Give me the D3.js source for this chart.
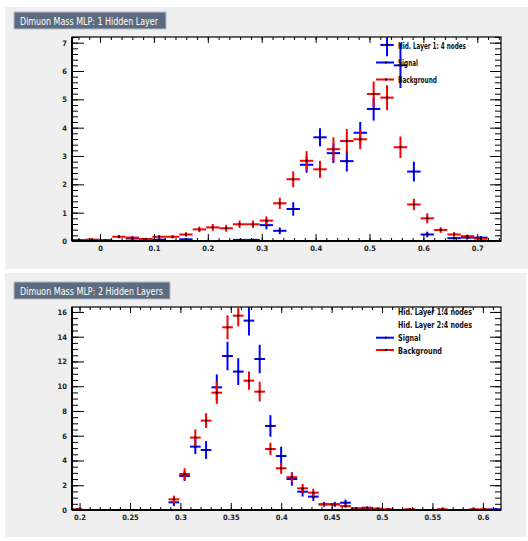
<!DOCTYPE html>
<html>
<head>
<meta charset="utf-8">
<script src="https://cdn.jsdelivr.net/npm/d3@7"></script>
<style>
  html, body { margin: 0; padding: 0; background: #ffffff; }
  svg { display: block; }
  .tick text { font-family: "Liberation Sans Narrow", "DejaVu Sans Condensed", sans-serif; font-size: 7.5px; font-weight: bold; fill: #222; }
</style>
</head>
<body>
<svg id="chart" width="528" height="541"></svg>
<script>
// ---- Panel 1: MLP with one hidden layer (32 bins) ----
const mlp1Range = [-0.052, 0.744];
const mlp1YMax = 7.2;
const mlp1XTicks = [0, 0.1, 0.2, 0.3, 0.4, 0.5, 0.6, 0.7];
const mlp1YTicks = [0, 1, 2, 3, 4, 5, 6, 7];
const mlp1Signal = [0.03, 0.02, 0.03, 0, 0.09, 0.05, 0.05, 0, 0.06, 0, 0, 0, 0.04, 0.04, 0.56, 0.36,
                    1.13, 2.69, 3.66, 3.10, 2.82, 3.82, 4.66, 6.92, 6.20, 2.45, 0.23, 0, 0.10, 0.12, 0.12, 0];
const mlp1SignalErr = [0.03, 0.02, 0.03, 0, 0.05, 0.04, 0.04, 0, 0.04, 0, 0, 0, 0.03, 0.03, 0.15, 0.12,
                       0.24, 0.28, 0.32, 0.35, 0.37, 0.38, 0.41, 0.40, 0.80, 0.35, 0.10, 0, 0.04, 0.05, 0.05, 0];
const mlp1Background = [0.02, 0.05, 0.02, 0.15, 0.12, 0.07, 0.15, 0.15, 0.23, 0.41, 0.48, 0.45, 0.59, 0.59, 0.72, 1.33,
                        2.18, 2.83, 2.53, 3.24, 3.53, 3.59, 5.19, 5.06, 3.31, 1.29, 0.80, 0.39, 0.23, 0.17, 0.08, 0];
const mlp1BackgroundErr = [0.02, 0.04, 0.02, 0.06, 0.05, 0.04, 0.06, 0.06, 0.08, 0.10, 0.12, 0.12, 0.13, 0.13, 0.15, 0.20,
                           0.28, 0.34, 0.30, 0.42, 0.42, 0.35, 0.44, 0.44, 0.38, 0.20, 0.18, 0.10, 0.08, 0.06, 0.04, 0];
const mlp1Legend = ["Hid. Layer 1: 4 nodes"];

// ---- Panel 2: MLP with two hidden layers (40 bins) ----
const mlp2Range = [0.1925, 0.618];
const mlp2YMax = 16.4;
const mlp2XTicks = [0.2, 0.25, 0.3, 0.35, 0.4, 0.45, 0.5, 0.55, 0.6];
const mlp2YTicks = [0, 2, 4, 6, 8, 10, 12, 14, 16];
const mlp2Signal = [0, 0, 0, 0, 0, 0, 0, 0, 0, 0.62, 2.75, 5.12, 4.85, 9.91, 12.44, 11.18,
                    15.30, 12.20, 6.79, 4.36, 2.50, 1.48, 1.08, 0.46, 0.46, 0.59, 0.13, 0.08, 0, 0,
                    0, 0, 0, 0, 0, 0, 0, 0, 0, 0.06];
const mlp2SignalErr = [0, 0, 0, 0, 0, 0, 0, 0, 0, 0.30, 0.40, 0.60, 0.72, 1.05, 1.15, 1.08,
                       1.20, 1.15, 0.87, 0.75, 0.54, 0.40, 0.34, 0.20, 0.20, 0.25, 0.10, 0.05, 0, 0,
                       0, 0, 0, 0, 0, 0, 0, 0, 0, 0.05];
const mlp2Background = [0.06, 0, 0, 0, 0, 0, 0, 0, 0, 0.86, 2.91, 5.85, 7.22, 9.48, 14.76, 15.70,
                        10.45, 9.56, 4.93, 3.37, 2.65, 1.75, 1.40, 0.45, 0.45, 0.32, 0.06, 0.19, 0.12, 0.06,
                        0, 0.06, 0, 0, 0.06, 0, 0, 0.06, 0.06, 0];
const mlp2BackgroundErr = [0.05, 0, 0, 0, 0, 0, 0, 0, 0, 0.30, 0.47, 0.67, 0.60, 0.90, 0.97, 0.87,
                           0.74, 0.80, 0.50, 0.45, 0.40, 0.35, 0.32, 0.15, 0.15, 0.15, 0.04, 0.08, 0.06, 0.04,
                           0, 0.04, 0, 0, 0.04, 0, 0, 0.04, 0.04, 0];
const mlp2Legend = ["Hid. Layer 1:4 nodes", "Hid. Layer 2:4 nodes"];

const signalColor = "#0000ff";
const backgroundColor = "#ff0000";
const narrow = '"Liberation Sans Narrow", "DejaVu Sans Condensed", sans-serif';

const svg = d3.select("#chart");

function drawPanel(p) {
  const g = svg.append("g");

  // pad background
  g.append("rect").attr("x", p.pad[0]).attr("y", p.pad[1])
    .attr("width", p.pad[2]).attr("height", p.pad[3]).attr("fill", "#efefef");

  const x = d3.scaleLinear().domain(p.range).range([p.frame[0], p.frame[1]]);
  const y = d3.scaleLinear().domain([0, p.yMax]).range([p.frame[3], p.frame[2]]);
  const [fx0, fx1, fy0, fy1] = p.frame;

  // frame
  g.append("rect").attr("x", fx0).attr("y", fy0).attr("width", fx1 - fx0).attr("height", fy1 - fy0)
    .attr("fill", "#ffffff").attr("stroke", "#000").attr("stroke-width", 1.2);

  // title box
  g.append("rect").attr("x", p.titleBox[0]).attr("y", p.titleBox[1])
    .attr("width", p.titleBox[2]).attr("height", p.titleBox[3])
    .attr("fill", "#5d6b7e").attr("stroke", "#b5bec9").attr("stroke-width", 1);
  g.append("text").attr("x", p.titleBox[0] + 6).attr("y", p.titleBox[1] + p.titleBox[3] / 2)
    .attr("dominant-baseline", "central")
    .attr("font-family", narrow).attr("font-size", 10.5).attr("fill", "#ffffff")
    .attr("textLength", p.titleLen).attr("lengthAdjust", "spacingAndGlyphs")
    .text(p.title);

  // histograms with error bars, clipped to the frame
  const clipId = "clip" + p.id;
  g.append("clipPath").attr("id", clipId).append("rect")
    .attr("x", fx0).attr("y", fy0).attr("width", fx1 - fx0).attr("height", fy1 - fy0);
  const hg = g.append("g").attr("clip-path", `url(#${clipId})`);
  const nb = p.signal.length;
  const bw = (p.range[1] - p.range[0]) / nb;

  function drawHist(values, errs, color) {
    const bins = values.map((v, i) => ({
      lo: p.range[0] + i * bw, hi: p.range[0] + (i + 1) * bw,
      c: p.range[0] + (i + 0.5) * bw, v, e: errs[i]
    })).filter(d => d.v > 0);
    const s = hg.append("g").attr("stroke", color).attr("stroke-width", 2);
    s.selectAll("line.h").data(bins).join("line").attr("class", "h")
      .attr("x1", d => x(d.lo)).attr("x2", d => x(d.hi))
      .attr("y1", d => y(d.v)).attr("y2", d => y(d.v));
    s.selectAll("line.v").data(bins).join("line").attr("class", "v")
      .attr("x1", d => x(d.c)).attr("x2", d => x(d.c))
      .attr("y1", d => y(Math.max(0, d.v - d.e))).attr("y2", d => y(d.v + d.e));
    hg.append("g").selectAll("rect").data(bins).join("rect")
      .attr("x", d => x(d.c) - 1).attr("y", d => y(d.v) - 1)
      .attr("width", 2).attr("height", 2).attr("fill", "#000");
  }
  drawHist(p.signal, p.signalErr, signalColor);
  drawHist(p.background, p.backgroundErr, backgroundColor);

  // axes
  const yMinor = d3.range(0, p.yMax + 1e-9, p.yMinorStep);
  const xMinor = d3.range(Math.ceil(p.range[0] / p.xMinorStep) * p.xMinorStep, p.range[1], p.xMinorStep);
  const fmtY = d3.format("d");
  const fmtX = v => String(+v.toFixed(2));

  function axis(gen, pos, transform, ticks, size, labels) {
    const a = g.append("g").attr("transform", transform)
      .call(gen(pos).tickValues(ticks).tickSize(size).tickSizeOuter(0)
        .tickPadding(labels ? (gen === d3.axisLeft ? 5 : 4) : 0)
        .tickFormat(labels ? labels : ""));
    a.select(".domain").remove();
    a.selectAll(".tick line").attr("stroke", "#000").attr("stroke-width", 1);
    return a;
  }
  // left
  axis(d3.axisLeft, y, `translate(${fx0},0)`, yMinor, -6, null);
  axis(d3.axisLeft, y, `translate(${fx0},0)`, p.yTicks, -12, fmtY);
  // right
  axis(d3.axisRight, y, `translate(${fx1},0)`, yMinor, -6, null);
  axis(d3.axisRight, y, `translate(${fx1},0)`, p.yTicks, -11, null);
  // bottom
  axis(d3.axisBottom, x, `translate(0,${fy1})`, xMinor, -3, null);
  const xb = axis(d3.axisBottom, x, `translate(0,${fy1})`, p.xTicks, -7, fmtX);
  xb.selectAll(".tick text").attr("dy", "0").attr("y", 9.5);
  // top
  axis(d3.axisTop, x, `translate(0,${fy0})`, xMinor, -3, null);
  axis(d3.axisTop, x, `translate(0,${fy0})`, p.xTicks, -6, null);

  // heavier axis lines
  g.append("line").attr("x1", fx0).attr("x2", fx1).attr("y1", fy1).attr("y2", fy1)
    .attr("stroke", "#000").attr("stroke-width", 2);
  g.append("line").attr("x1", fx0).attr("x2", fx0).attr("y1", fy0).attr("y2", fy1)
    .attr("stroke", "#000").attr("stroke-width", 2);

  // legend
  const lg = g.append("g").attr("font-family", narrow).attr("font-size", 9.5)
    .attr("font-weight", "bold").attr("fill", "#111");
  p.legendText.forEach((t, i) => {
    lg.append("text").attr("x", 398).attr("y", p.legendY[i]).attr("dominant-baseline", "central")
      .attr("textLength", p.legendLen[i]).attr("lengthAdjust", "spacingAndGlyphs").text(t);
  });
  const entries = [
    { name: "Signal", color: signalColor },
    { name: "Background", color: backgroundColor }
  ];
  entries.forEach((e, k) => {
    const j = p.legendText.length + k;
    const yy = p.legendY[j];
    lg.append("line").attr("x1", 376).attr("x2", 394).attr("y1", yy).attr("y2", yy)
      .attr("stroke", e.color).attr("stroke-width", 2);
    lg.append("rect").attr("x", 385).attr("y", yy - 1).attr("width", 2).attr("height", 2).attr("fill", "#000");
    lg.append("text").attr("x", 398).attr("y", yy).attr("dominant-baseline", "central")
      .attr("textLength", p.legendLen[j]).attr("lengthAdjust", "spacingAndGlyphs").text(e.name);
  });
}

drawPanel({
  id: 1,
  pad: [5, 7, 523, 262],
  frame: [72, 501, 37, 241],
  titleBox: [14, 12, 152, 17], title: "Dimuon Mass MLP: 1 Hidden Layer", titleLen: 138,
  range: mlp1Range, yMax: mlp1YMax,
  xTicks: mlp1XTicks, yTicks: mlp1YTicks, xMinorStep: 0.02, yMinorStep: 0.2,
  signal: mlp1Signal, signalErr: mlp1SignalErr,
  background: mlp1Background, backgroundErr: mlp1BackgroundErr,
  legendText: mlp1Legend, legendY: [45, 62.5, 79.5], legendLen: [68, 20, 39]
});

drawPanel({
  id: 2,
  pad: [5, 273, 521, 264],
  frame: [72, 501, 307, 510],
  titleBox: [14, 282, 156, 17], title: "Dimuon Mass MLP: 2 Hidden Layers", titleLen: 143,
  range: mlp2Range, yMax: mlp2YMax,
  xTicks: mlp2XTicks, yTicks: mlp2YTicks, xMinorStep: 0.01, yMinorStep: 0.5,
  signal: mlp2Signal, signalErr: mlp2SignalErr,
  background: mlp2Background, backgroundErr: mlp2BackgroundErr,
  legendText: mlp2Legend, legendY: [311.7, 324.3, 337.7, 350], legendLen: [74, 74, 22.7, 44]
});
</script>
</body>
</html>
